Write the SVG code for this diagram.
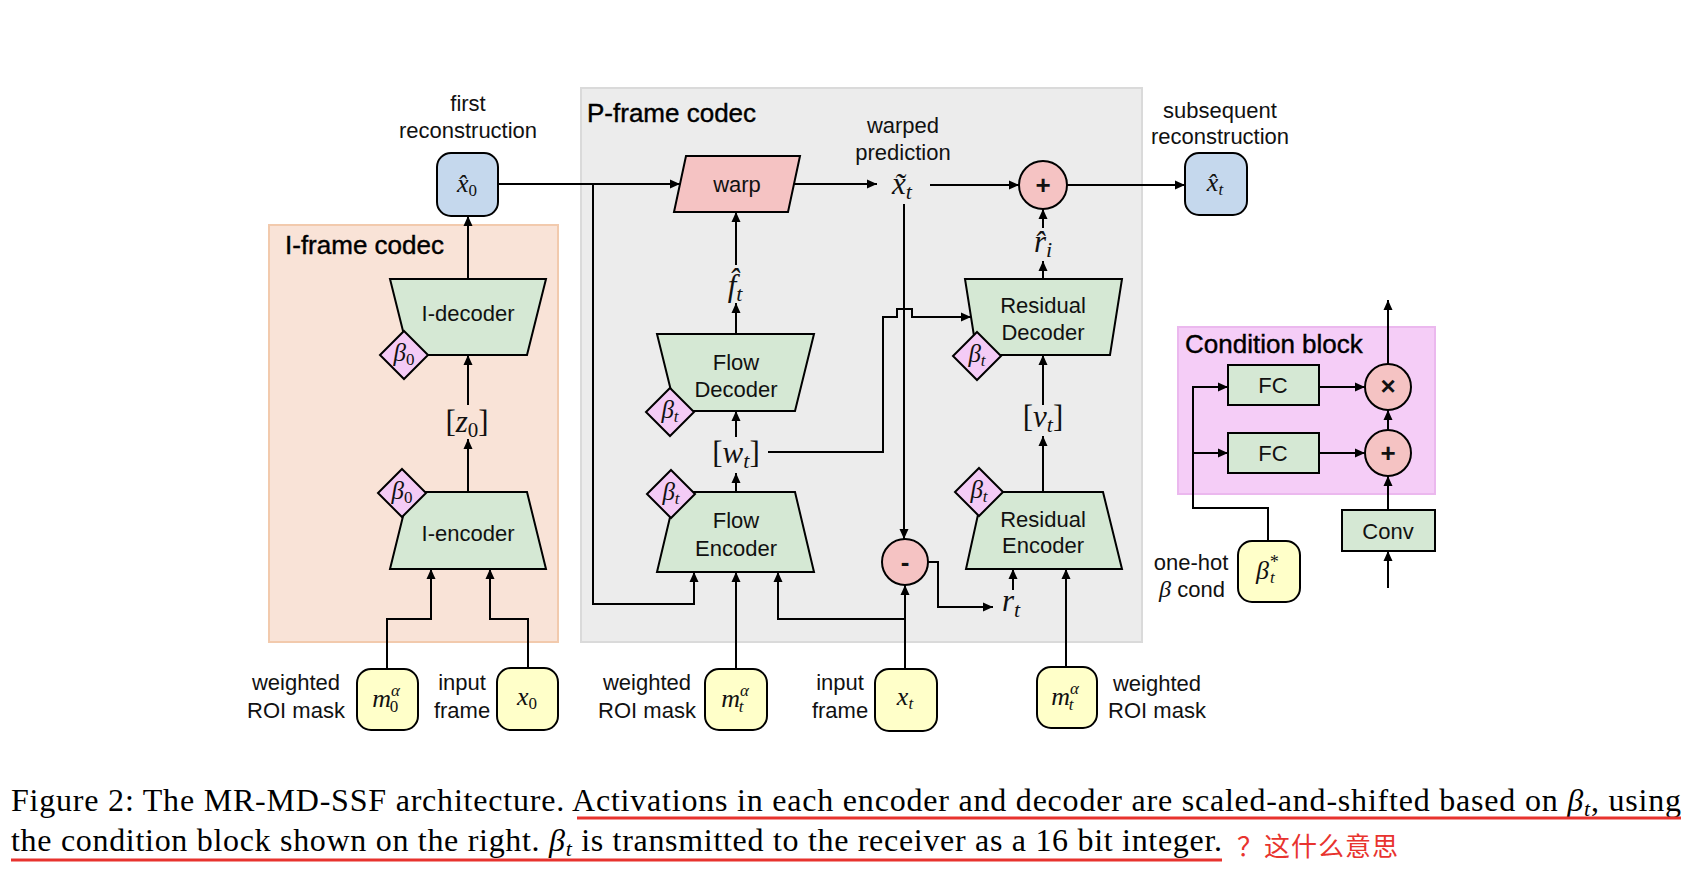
<svg xmlns="http://www.w3.org/2000/svg" width="1708" height="878" viewBox="0 0 1708 878">
<defs>
<marker id="ah" viewBox="0 0 10 10" refX="10" refY="5" markerWidth="10" markerHeight="10" markerUnits="userSpaceOnUse" orient="auto"><path d="M0,0.5 L10,5 L0,9.5 z" fill="#000"/></marker>
<style>
.ln{fill:none;stroke:#000;stroke-width:2;marker-end:url(#ah)}
.g{fill:#d5e8d4;stroke:#000;stroke-width:2}
.b{fill:#c5d8ed;stroke:#000;stroke-width:2}
.y{fill:#ffffc9;stroke:#000;stroke-width:2}
.r{fill:#f5c3c3;stroke:#000;stroke-width:2}
.d{fill:#f4cbf6;stroke:#000;stroke-width:2}
.t{font-family:"Liberation Sans",Arial,sans-serif;font-size:22px;fill:#111;text-anchor:middle}
.h{font-family:"Liberation Sans",Arial,sans-serif;font-size:26px;fill:#000;stroke:#000;stroke-width:0.4}
.m{font-family:"Liberation Serif","DejaVu Serif",serif;font-style:italic;fill:#111;text-anchor:middle}
.up{font-style:normal}
.op{font-family:"Liberation Sans",Arial,sans-serif;font-size:26px;font-weight:bold;fill:#111;text-anchor:middle}
.cap{font-family:"Liberation Serif","Times New Roman",serif;font-size:32px;fill:#000}
</style>
</defs>
<rect width="1708" height="878" fill="#fff"/>

<g id="iframe-codec">
<rect x="269" y="225" width="289" height="417" fill="#f9e3d7" stroke="#f2caad" stroke-width="2"/>
<text class="h" x="285" y="254">I-frame codec</text>
</g>
<g id="pframe-codec">
<rect x="581" y="88" width="561" height="554" fill="#ececec" stroke="#dadada" stroke-width="2"/>
<text class="h" x="587" y="122">P-frame codec</text>
</g>
<g id="condition-block">
<rect x="1178" y="327" width="257" height="167" fill="#f5cdf7" stroke="#ebb8ee" stroke-width="2"/>
<text class="h" x="1185" y="353">Condition block</text>
</g>

<g id="connectors">
<path class="ln" d="M498,184 H680"/>
<path class="ln" d="M593,184 V604 H694 V572"/>
<path class="ln" d="M794,184 H877"/>
<path class="ln" d="M930,185 H1019"/>
<path class="ln" d="M904,204 V539"/>
<path class="ln" d="M1067,185 H1185"/>
<path class="ln" d="M468,279 V216"/>
<path class="ln" d="M468,405 V355"/>
<path class="ln" d="M468,492 V439"/>
<path class="ln" d="M387,668 V619 H431 V569"/>
<path class="ln" d="M528,668 V619 H490 V569"/>
<path class="ln" d="M736,334 V303"/>
<path class="ln" d="M736,265 V212"/>
<path class="ln" d="M736,437 V411"/>
<path class="ln" d="M736,492 V473"/>
<path class="ln" d="M768,452 H883 V317 H897 V309 H912 V317 H971"/>
<path class="ln" d="M736,668 V572"/>
<path class="ln" d="M905,668 V585"/>
<path class="ln" d="M905,619 H778 V572"/>
<path class="ln" d="M928,562 H938 V607 H993"/>
<path class="ln" d="M1013,590 V569"/>
<path class="ln" d="M1066,667 V569"/>
<path class="ln" d="M1043,492 V436"/>
<path class="ln" d="M1043,405 V355"/>
<path class="ln" d="M1043,279 V261"/>
<path class="ln" d="M1043,228 V209"/>
<path class="ln" d="M1268,541 V508 H1193 V387 H1228"/>
<path class="ln" d="M1193,453 H1228"/>
<path class="ln" d="M1319,387 H1365"/>
<path class="ln" d="M1319,453 H1365"/>
<path class="ln" d="M1388,430 V410"/>
<path class="ln" d="M1388,364 V300"/>
<path class="ln" d="M1388,510 V476"/>
<path class="ln" d="M1388,588 V551"/>
</g>

<g id="x0hat">
<text class="t" x="468" y="111">first</text>
<text class="t" x="468" y="138">reconstruction</text>
<rect class="b" x="437" y="153" width="61" height="63" rx="14"/>
<text class="m" x="467" y="192" font-size="26">x&#x302;<tspan class="up" font-size="17" dy="4">0</tspan></text>
</g>

<g id="i-decoder">
<polygon class="g" points="390,279 546,279 527,355 409,355"/>
<text class="t" x="468" y="321">I-decoder</text>
<polygon class="d" points="0,-24 24,0 0,24 -24,0" transform="translate(404,355)"/>
<text class="m" x="404" y="361" font-size="25">β<tspan class="up" font-size="17" dy="4">0</tspan></text>
</g>

<g id="z0">
<text class="m" x="467" y="432" font-size="31"><tspan class="up">[</tspan>z<tspan class="up" font-size="21" dy="5">0</tspan><tspan class="up" dy="-5">]</tspan></text>
</g>

<g id="i-encoder">
<polygon class="g" points="409,492 527,492 546,569 390,569"/>
<text class="t" x="468" y="541">I-encoder</text>
<polygon class="d" points="0,-24 24,0 0,24 -24,0" transform="translate(402,493)"/>
<text class="m" x="402" y="499" font-size="25">β<tspan class="up" font-size="17" dy="4">0</tspan></text>
</g>

<g id="m0">
<text class="t" x="296" y="690">weighted</text>
<text class="t" x="296" y="718">ROI mask</text>
<rect class="y" x="357" y="669" width="61" height="61" rx="14"/>
<text class="m" x="386" y="707" font-size="26">m<tspan font-size="17" dy="-11">α</tspan><tspan class="up" font-size="17" dx="-10" dy="16">0</tspan></text>
</g>

<g id="x0">
<text class="t" x="462" y="690">input</text>
<text class="t" x="462" y="718">frame</text>
<rect class="y" x="497" y="668" width="61" height="62" rx="14"/>
<text class="m" x="527" y="705" font-size="26">x<tspan class="up" font-size="17" dy="4">0</tspan></text>
</g>

<g id="warp">
<polygon class="r" points="686,156 800,156 788,212 674,212"/>
<text class="t" x="737" y="192">warp</text>
</g>

<g id="xtilde">
<text class="t" x="903" y="133">warped</text>
<text class="t" x="903" y="160">prediction</text>
<text class="m" x="902" y="194" font-size="31">x&#x303;<tspan font-size="22" dy="5">t</tspan></text>
</g>

<g id="fhat">
<text class="m" x="735" y="296" font-size="31">f&#x302;<tspan font-size="22" dy="5">t</tspan></text>
</g>

<g id="flow-decoder">
<polygon class="g" points="657,334 814,334 795,411 676,411"/>
<text class="t" x="736" y="370">Flow</text>
<text class="t" x="736" y="397">Decoder</text>
<polygon class="d" points="0,-24 24,0 0,24 -24,0" transform="translate(670,412)"/>
<text class="m" x="670" y="418" font-size="25">β<tspan font-size="17" dy="4">t</tspan></text>
</g>

<g id="wt">
<text class="m" x="736" y="463" font-size="31"><tspan class="up">[</tspan>w<tspan font-size="22" dy="5">t</tspan><tspan class="up" dy="-5">]</tspan></text>
</g>

<g id="flow-encoder">
<polygon class="g" points="676,492 795,492 814,572 657,572"/>
<text class="t" x="736" y="528">Flow</text>
<text class="t" x="736" y="556">Encoder</text>
<polygon class="d" points="0,-24 24,0 0,24 -24,0" transform="translate(671,494)"/>
<text class="m" x="671" y="500" font-size="25">β<tspan font-size="17" dy="4">t</tspan></text>
</g>

<g id="mt-flow">
<text class="t" x="647" y="690">weighted</text>
<text class="t" x="647" y="718">ROI mask</text>
<rect class="y" x="705" y="669" width="62" height="61" rx="14"/>
<text class="m" x="735" y="707" font-size="26">m<tspan font-size="17" dy="-11">α</tspan><tspan font-size="17" dx="-10" dy="16">t</tspan></text>
</g>

<g id="xt">
<text class="t" x="840" y="690">input</text>
<text class="t" x="840" y="718">frame</text>
<rect class="y" x="875" y="669" width="62" height="62" rx="14"/>
<text class="m" x="905" y="705" font-size="26">x<tspan font-size="17" dy="4">t</tspan></text>
</g>

<g id="minus">
<circle class="r" cx="905" cy="562" r="23"/>
<text class="op" x="905" y="571">-</text>
</g>

<g id="rt">
<text class="m" x="1011" y="611" font-size="31">r<tspan font-size="22" dy="6">t</tspan></text>
</g>

<g id="residual-encoder">
<polygon class="g" points="983,492 1103,492 1122,569 966,569"/>
<text class="t" x="1043" y="527">Residual</text>
<text class="t" x="1043" y="553">Encoder</text>
<polygon class="d" points="0,-24 24,0 0,24 -24,0" transform="translate(979,492)"/>
<text class="m" x="979" y="498" font-size="25">β<tspan font-size="17" dy="4">t</tspan></text>
</g>

<g id="mt-residual">
<rect class="y" x="1037" y="667" width="60" height="61" rx="14"/>
<text class="m" x="1065" y="705" font-size="26">m<tspan font-size="17" dy="-11">α</tspan><tspan font-size="17" dx="-10" dy="16">t</tspan></text>
<text class="t" x="1157" y="691">weighted</text>
<text class="t" x="1157" y="718">ROI mask</text>
</g>

<g id="vt">
<text class="m" x="1043" y="427" font-size="31"><tspan class="up">[</tspan>v<tspan font-size="22" dy="5">t</tspan><tspan class="up" dy="-5">]</tspan></text>
</g>

<g id="residual-decoder">
<polygon class="g" points="965,279 1122,279 1110,355 977,355"/>
<text class="t" x="1043" y="313">Residual</text>
<text class="t" x="1043" y="340">Decoder</text>
<polygon class="d" points="0,-24 24,0 0,24 -24,0" transform="translate(977,356)"/>
<text class="m" x="977" y="362" font-size="25">β<tspan font-size="17" dy="4">t</tspan></text>
</g>

<g id="rhat">
<text class="m" x="1043" y="252" font-size="31">r&#x302;<tspan font-size="22" dy="5">i</tspan></text>
</g>

<g id="plus">
<circle class="r" cx="1043" cy="185" r="24"/>
<text class="op" x="1043" y="194">+</text>
</g>

<g id="xthat">
<text class="t" x="1220" y="118">subsequent</text>
<text class="t" x="1220" y="144">reconstruction</text>
<rect class="b" x="1185" y="153" width="62" height="62" rx="14"/>
<text class="m" x="1215" y="191" font-size="26">x&#x302;<tspan font-size="17" dy="4">t</tspan></text>
</g>

<g id="fc1">
<rect class="g" x="1228" y="365" width="91" height="40"/>
<text class="t" x="1273" y="393">FC</text>
</g>
<g id="fc2">
<rect class="g" x="1228" y="433" width="91" height="40"/>
<text class="t" x="1273" y="461">FC</text>
</g>
<g id="times">
<circle class="r" cx="1388" cy="387" r="23"/>
<text class="op" x="1388" y="395">×</text>
</g>
<g id="plus2">
<circle class="r" cx="1388" cy="453" r="23"/>
<text class="op" x="1388" y="462">+</text>
</g>
<g id="conv">
<rect class="g" x="1342" y="510" width="93" height="41"/>
<text class="t" x="1388" y="539">Conv</text>
</g>
<g id="beta-star">
<text class="t" x="1191" y="570">one-hot</text>
<text class="t" x="1192" y="597"><tspan font-family="Liberation Serif,serif" font-style="italic" font-size="24">β</tspan> cond</text>
<rect class="y" x="1238" y="541" width="62" height="61" rx="14"/>
<text class="m" x="1267" y="579" font-size="26">β<tspan font-size="18" dy="-11">*</tspan><tspan font-size="17" dx="-8" dy="15">t</tspan></text>
</g>

<g id="caption">
<text class="cap" x="11" y="811" textLength="1670">Figure 2: The MR-MD-SSF architecture. Activations in each encoder and decoder are scaled-and-shifted based on <tspan font-style="italic">β</tspan><tspan font-style="italic" font-size="22" dy="5">t</tspan><tspan dy="-5">, using</tspan></text>
<text class="cap" x="11" y="851" textLength="1211">the condition block shown on the right. <tspan font-style="italic">β</tspan><tspan font-style="italic" font-size="22" dy="5">t</tspan><tspan dy="-5"> is transmitted to the receiver as a 16 bit integer.</tspan></text>
<line x1="577" y1="818" x2="1681" y2="818" stroke="#e8332e" stroke-width="3"/>
<line x1="11" y1="860" x2="1222" y2="860" stroke="#e8332e" stroke-width="3"/>
<text x="1237" y="856" font-family="Noto Sans CJK SC,sans-serif" font-size="26" fill="#e8332e" textLength="161">？这什么意思</text>
</g>
</svg>
